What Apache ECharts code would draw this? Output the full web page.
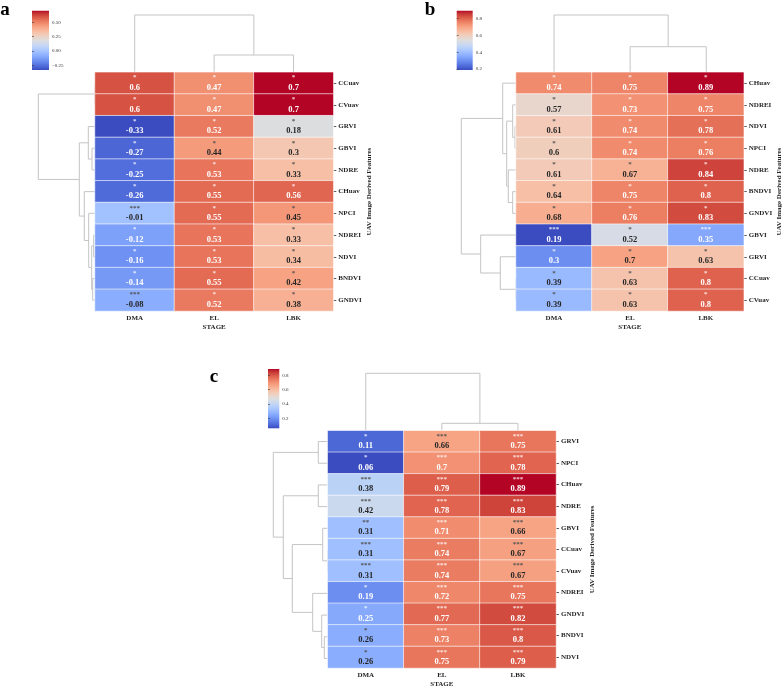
<!DOCTYPE html>
<html><head><meta charset="utf-8">
<script src="https://cdn.jsdelivr.net/npm/echarts@6/dist/echarts.min.js"></script>
<style>html,body{margin:0;padding:0;background:#fff}#c{width:784px;height:689px}</style>
</head><body><div id="c"></div>
<script>
// ---------------- data ----------------
const stages = ['DMA', 'EL', 'LBK'];

// panel a
const rowsA = ['CCuav','CVuav','GRVI','GBVI','NDRE','CHuav','NPCI','NDREI','NDVI','BNDVI','GNDVI'];
const dmaA = [0.6, 0.6, -0.33, -0.27, -0.25, -0.26, -0.01, -0.12, -0.16, -0.14, -0.08];
const elA  = [0.47, 0.47, 0.52, 0.44, 0.53, 0.55, 0.55, 0.53, 0.53, 0.55, 0.52];
const lbkA = [0.7, 0.7, 0.18, 0.3, 0.33, 0.56, 0.45, 0.33, 0.34, 0.42, 0.38];
const sigDmaA = ['*','*','*','*','*','*','***','*','*','*','***'];
const sigElA  = ['*','*','*','*','*','*','*','*','*','*','*'];
const sigLbkA = ['*','*','*','*','*','*','*','*','*','*','*'];
// linkage: [childA, childB, merge height]; leaves 0..n-1 in displayed order, merge k -> node n+k
const rowLinkA = [[0,1,0],[3,4,3],[7,8,1.3],[9,10,2.3],[13,14,3.3],[2,12,6.7],[6,15,6.3],[5,17,10.7],[16,18,15.7],[11,19,56.7]];
const colLinkA = [[1,2,17.3],[0,3,57.3]];
const ticksA = [-0.25, 0, 0.25, 0.5];
const tickTextA = ['\u22120.25', '0.00', '0.25', '0.50'];

// panel b
const rowsB = ['CHuav','NDREI','NDVI','NPCI','NDRE','BNDVI','GNDVI','GBVI','GRVI','CCuav','CVuav'];
const dmaB = [0.74, 0.57, 0.61, 0.6, 0.61, 0.64, 0.68, 0.19, 0.3, 0.39, 0.39];
const elB  = [0.75, 0.73, 0.74, 0.74, 0.67, 0.75, 0.76, 0.52, 0.7, 0.63, 0.63];
const lbkB = [0.89, 0.75, 0.78, 0.76, 0.84, 0.8, 0.83, 0.35, 0.63, 0.8, 0.8];
const sigDmaB = ['*','*','*','*','*','*','*','***','*','*','*'];
const sigElB  = ['*','*','*','*','*','*','*','*','*','*','*'];
const sigLbkB = ['*','*','*','*','*','*','*','***','*','*','*'];
const rowLinkB = [[9,10,0],[8,11,15.7],[7,12,35.3],[2,3,1],[1,14,3.3],[5,6,3.3],[4,16,7.7],[15,17,9.3],[0,18,13.3],[19,13,54.7]];
const colLinkB = [[1,2,25.6],[0,3,57.3]];
const ticksB = [0.2, 0.4, 0.6, 0.8];
const tickTextB = ['0.2', '0.4', '0.6', '0.8'];

// panel c
const rowsC = ['GRVI','NPCI','CHuav','NDRE','GBVI','CCuav','CVuav','NDREI','GNDVI','BNDVI','NDVI'];
const dmaC = [0.11, 0.06, 0.38, 0.42, 0.31, 0.31, 0.31, 0.19, 0.25, 0.26, 0.26];
const elC  = [0.66, 0.7, 0.79, 0.78, 0.71, 0.74, 0.74, 0.72, 0.77, 0.73, 0.75];
const lbkC = [0.75, 0.78, 0.89, 0.83, 0.66, 0.67, 0.67, 0.75, 0.82, 0.8, 0.79];
const sigDmaC = ['*','*','***','***','**','***','***','*','*','*','*'];
const sigElC  = ['***','***','***','***','***','***','***','***','***','***','***'];
const sigLbkC = ['***','***','***','***','***','***','***','***','***','***','***'];
const rowLinkC = [[0,1,9.4],[2,3,9.4],[5,6,0],[4,13,5],[9,10,3.4],[8,15,6],[7,16,15],[14,17,35.4],[12,18,44.4],[11,19,54.4]];
const colLinkC = [[1,2,7.4],[0,3,57.4]];
const ticksC = [0.2, 0.4, 0.6, 0.8];
const tickTextC = ['0.2', '0.4', '0.6', '0.8'];

// ---------------- style ----------------
const COOLWARM = ['#3b4cc0','#445acc','#4d68d7','#5775e1','#6282ea','#6c8ef1','#779af7','#82a5fb','#8db0fe','#98b9ff','#a3c2ff','#aec9fd','#b8d0f9','#c2d5f4','#ccd9ee','#d5dbe6','#dddddd','#e5d8d1','#ecd3c5','#f1ccb9','#f5c4ad','#f7bba0','#f7b194','#f7a687','#f49a7b','#f18d6f','#ec7f63','#e57058','#de604d','#d55042','#cb3e38','#c0282f','#b40426'];
const SERIF = "'Liberation Serif','Times New Roman',serif";
const DARK = '#262626';
const DENDRO = '#c4c4c4';

function hex2rgb(h){return [parseInt(h.slice(1,3),16),parseInt(h.slice(3,5),16),parseInt(h.slice(5,7),16)];}
function cmap(t){
  t = Math.max(0, Math.min(1, t));
  const f = t*(COOLWARM.length-1), i = Math.min(Math.floor(f), COOLWARM.length-2), r = f-i;
  const a = hex2rgb(COOLWARM[i]), b = hex2rgb(COOLWARM[i+1]);
  return a.map((v,k)=>v+(b[k]-v)*r);
}
function lum(rgb){
  const c = rgb.map(v=>{v/=255; return v<=0.03928? v/12.92 : Math.pow((v+0.055)/1.055,2.4);});
  return 0.2126*c[0]+0.7152*c[1]+0.0722*c[2];
}

function dendroSegs(link, n, orient){
  const pos = [], ht = [];
  for (let i=0;i<n;i++){pos[i]=i+0.5; ht[i]=0;}
  const segs = [];
  link.forEach((m,k)=>{
    const a=m[0], b=m[1], h=m[2], id=n+k;
    pos[id]=(pos[a]+pos[b])/2; ht[id]=h;
    const pts=[[pos[a],ht[a]],[pos[a],h],[pos[b],h],[pos[b],ht[b]]];
    segs.push({coords: orient==='col'? pts : pts.map(q=>[q[1],q[0]])});
  });
  return segs;
}

const panels = [
  {rows:rowsA, cols:[dmaA,elA,lbkA], sig:[sigDmaA,sigElA,sigLbkA], rowLink:rowLinkA, colLink:colLinkA, ticks:ticksA, tickText:tickTextA,
   hm:{l:95,t:72.3,w:238.3,h:238.7}, cb:{l:32,t:10.7,w:17,h:59.3}, letter:'a', lx:5, ly:20, gap:30},
  {rows:rowsB, cols:[dmaB,elB,lbkB], sig:[sigDmaB,sigElB,sigLbkB], rowLink:rowLinkB, colLink:colLinkB, ticks:ticksB, tickText:tickTextB,
   hm:{l:516,t:72.3,w:228.3,h:238.7}, cb:{l:456.7,t:10.7,w:16,h:59.3}, letter:'b', lx:430, ly:20, gap:31},
  {rows:rowsC, cols:[dmaC,elC,lbkC], sig:[sigDmaC,sigElC,sigLbkC], rowLink:rowLinkC, colLink:colLinkC, ticks:ticksC, tickText:tickTextC,
   hm:{l:327.7,t:430.7,w:228.3,h:238.6}, cb:{l:268,t:369,w:11.3,h:59.3}, letter:'c', lx:214, ly:387, gap:30}
];

const grid=[], xAxis=[], yAxis=[], series=[], visualMap=[], graphic=[];

panels.forEach((P, pi)=>{
  const all = [].concat(P.cols[0], P.cols[1], P.cols[2]);
  const vmin = Math.min.apply(null, all), vmax = Math.max.apply(null, all);
  const g0 = grid.length;
  const n = P.rows.length;
  const rootR = P.rowLink[P.rowLink.length-1][2]*1.05;
  const rootC = P.colLink[P.colLink.length-1][2]*1.05;
  grid.push({left:P.hm.l, top:P.hm.t, width:P.hm.w, height:P.hm.h});
  grid.push({left:P.hm.l, top:P.hm.t-rootC, width:P.hm.w, height:rootC});
  grid.push({left:P.hm.l-rootR, top:P.hm.t, width:rootR, height:P.hm.h});
  grid.push({left:P.cb.l, top:P.cb.t, width:P.cb.w, height:P.cb.h, show:true, borderWidth:0,
    backgroundColor:new echarts.graphic.LinearGradient(0,1,0,0, COOLWARM.map((c,i)=>({offset:i/(COOLWARM.length-1), color:c})))});

  xAxis.push({type:'category', gridIndex:g0, data:stages, position:'bottom',
    axisLine:{show:false}, axisTick:{show:false}, splitLine:{show:false},
    axisLabel:{fontFamily:SERIF, fontWeight:'bold', fontSize:7, color:DARK, margin:4},
    name:'STAGE', nameLocation:'middle', nameGap:13,
    nameTextStyle:{fontFamily:SERIF, fontWeight:'bold', fontSize:7, color:DARK}});
  yAxis.push({type:'category', gridIndex:g0, data:P.rows, inverse:true, position:'right',
    axisLine:{show:false}, axisTick:{show:true, alignWithLabel:true, length:3, lineStyle:{color:'#333', width:0.8}}, splitLine:{show:false},
    axisLabel:{fontFamily:SERIF, fontWeight:'bold', fontSize:7, color:DARK, margin:5},
    name:'UAV Image Derived Features', nameLocation:'middle', nameRotate:90, nameGap:P.gap,
    nameTextStyle:{fontFamily:SERIF, fontWeight:'bold', fontSize:7, color:DARK}});
  xAxis.push({type:'value', gridIndex:g0+1, min:0, max:3, show:false});
  yAxis.push({type:'value', gridIndex:g0+1, min:0, max:rootC, show:false});
  xAxis.push({type:'value', gridIndex:g0+2, min:0, max:rootR, inverse:true, show:false});
  yAxis.push({type:'value', gridIndex:g0+2, min:0, max:n, inverse:true, show:false});
  xAxis.push({type:'value', gridIndex:g0+3, min:0, max:1, show:false});
  yAxis.push({type:'value', gridIndex:g0+3, min:vmin, max:vmax, position:'right',
    axisLine:{show:false}, splitLine:{show:false},
    axisTick:{show:true, length:2, customValues:P.ticks, lineStyle:{color:'#333', width:0.6}},
    axisLabel:{show:true, customValues:P.ticks, margin:3, fontFamily:SERIF, fontSize:5, color:'#333',
      formatter:(v)=>{const i=P.ticks.findIndex(t=>Math.abs(t-v)<1e-9); return i>=0?P.tickText[i]:'';}}});

  series.push({type:'lines', coordinateSystem:'cartesian2d', xAxisIndex:g0+1, yAxisIndex:g0+1, polyline:true, silent:true,
    lineStyle:{color:DENDRO, width:1, opacity:1}, data:dendroSegs(P.colLink, 3, 'col')});
  series.push({type:'lines', coordinateSystem:'cartesian2d', xAxisIndex:g0+2, yAxisIndex:g0+2, polyline:true, silent:true,
    lineStyle:{color:DENDRO, width:1, opacity:1}, data:dendroSegs(P.rowLink, n, 'row')});

  const data=[];
  for (let r=0;r<n;r++) for (let c=0;c<3;c++){
    const v = P.cols[c][r];
    const L = lum(cmap((v-vmin)/(vmax-vmin)));
    const light = L > 0.408;
    const vc = light ? DARK : '#ffffff';
    const sc = light ? '#555555' : 'rgba(255,255,255,0.8)';
    data.push({value:[c, r, v], label:{
      formatter:'{s|'+P.sig[c][r]+'}\n{v|'+String(v)+'}',
      rich:{s:{fontFamily:SERIF, fontSize:7, lineHeight:9, color:sc, fontWeight:'bold'},
            v:{fontFamily:SERIF, fontSize:8.5, lineHeight:11, color:vc, fontWeight:'bold'}}}});
  }
  const si = series.length;
  series.push({type:'heatmap', xAxisIndex:g0, yAxisIndex:g0, data:data,
    itemStyle:{borderColor:'#ffffff', borderWidth:0.6},
    label:{show:true, position:'inside'}, emphasis:{disabled:true}});
  visualMap.push({type:'continuous', show:false, seriesIndex:si, dimension:2, min:vmin, max:vmax, inRange:{color:COOLWARM}});

  graphic.push({type:'text', x:P.lx, y:P.ly, silent:true,
    style:{text:P.letter, fontFamily:SERIF, fontWeight:'bold', fontSize:19, fill:'#000', align:'center', verticalAlign:'bottom'}});
});

const chart = echarts.init(document.getElementById('c'), null, {renderer:'canvas'});
chart.setOption({animation:false, backgroundColor:'#ffffff', grid, xAxis, yAxis, series, visualMap, graphic});
</script>
</body></html>
